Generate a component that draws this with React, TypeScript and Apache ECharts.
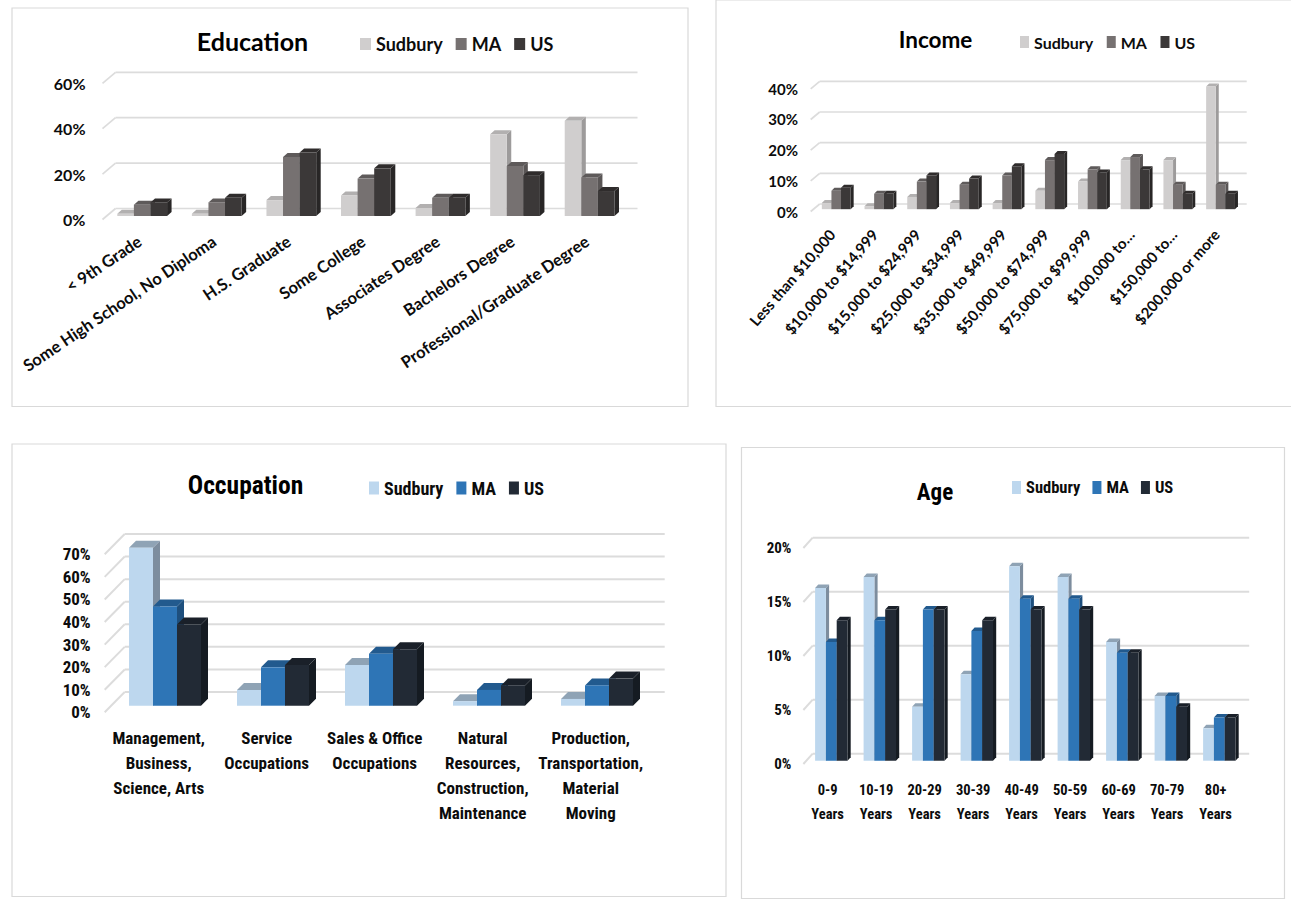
import React, { useEffect, useRef } from "react";
import * as echarts from "echarts";

const seriesNames = ["Sudbury", "MA", "US"];

const eduCategories = ["< 9th Grade", "Some High School, No Diploma", "H.S. Graduate", "Some College", "Associates Degree", "Bachelors Degree", "Professional/Graduate Degree"];
const eduSudbury = [1, 1, 7, 9, 3.5, 36, 42];
const eduMA = [5, 6, 26, 16.5, 8, 22, 17];
const eduUS = [6, 8, 28, 21, 8, 18, 11];

const incCategories = ["Less than $10,000", "$10,000 to $14,999", "$15,000 to $24,999", "$25,000 to $34,999", "$35,000 to $49,999", "$50,000 to $74,999", "$75,000 to $99,999", "$100,000 to…", "$150,000 to…", "$200,000 or more"];
const incSudbury = [2, 1, 4, 2, 2, 6, 9, 16, 16, 40];
const incMA = [6, 5, 9, 8, 11, 16, 13, 17, 8, 8];
const incUS = [7, 5, 11, 10, 14, 18, 12, 13, 5, 5];

const occCategories = ["Management,\nBusiness,\nScience, Arts", "Service\nOccupations", "Sales & Office\nOccupations", "Natural\nResources,\nConstruction,\nMaintenance", "Production,\nTransportation,\nMaterial\nMoving"];
const occSudbury = [70, 7, 18, 2, 3];
const occMA = [44, 17, 23, 7, 9];
const occUS = [36, 18, 25, 9, 12];

const ageCategories = ["0-9\nYears", "10-19\nYears", "20-29\nYears", "30-39\nYears", "40-49\nYears", "50-59\nYears", "60-69\nYears", "70-79\nYears", "80+\nYears"];
const ageSudbury = [16, 17, 5, 8, 18, 17, 11, 6, 3];
const ageMA = [11, 13, 14, 12, 15, 15, 10, 6, 4];
const ageUS = [13, 14, 14, 13, 14, 14, 10, 5, 4];

const eduTicks = [0, 20, 40, 60];
const incTicks = [0, 10, 20, 30, 40];
const occTicks = [0, 10, 20, 30, 40, 50, 60, 70];
const ageTicks = [0, 5, 10, 15, 20];

const GREY = [
  { front: "#d0cece", top: "#b2b0b0", side: "#9d9b9b" },
  { front: "#767171", top: "#5e5a5a", side: "#5a5656" },
  { front: "#3b3838", top: "#2f2c2c", side: "#282626" },
];
const BLUE = [
  { front: "#bdd7ee", top: "#8fa3b5", side: "#7d8d9e" },
  { front: "#2e75b6", top: "#225a8e", side: "#1e4f7d" },
  { front: "#222a35", top: "#1a2029", side: "#151b22" },
];

const WIDE = "Lato";
const NARROW = "'Roboto Condensed',Lato";

const charts = [
  {
    title: "Education", titleX: 252.5, titleY: 28, titleSize: 25, font: WIDE,
    categories: eduCategories, values: [eduSudbury, eduMA, eduUS], ticks: eduTicks, colors: GREY,
    left: 102.5, right: 624.5, top: 83.3, bottom: 219.5,
    wall: [13, 11], shift: [2.4, 3.5], depth: [4.5, 4], barFrac: 0.2225,
    rotate: 34, labelSize: 16.5, labelMargin: 20, yMargin: 17, ySize: 16, gridWidth: 1.7,
    legendX: 360, legendY: 35, legendSize: 18, legendGap: 13, swatch: [11, 12], lineHeight: 18,
  },
  {
    title: "Income", titleX: 935.5, titleY: 28, titleSize: 22.5, font: WIDE,
    categories: incCategories, values: [incSudbury, incMA, incUS], ticks: incTicks, colors: GREY,
    left: 810.7, right: 1237.7, top: 88.8, bottom: 211.5,
    wall: [9, 7.5], shift: [4.2, 2.3], depth: [3, 3], barFrac: 0.225,
    rotate: 49, labelSize: 15, labelMargin: 20, yMargin: 12.7, ySize: 15, gridWidth: 1.7,
    legendX: 1020, legendY: 34, legendSize: 16, legendGap: 13.5, swatch: [9, 12], lineHeight: 18,
  },
  {
    title: "Occupation", titleX: 245.5, titleY: 472, titleSize: 25.5, font: NARROW,
    categories: occCategories, values: [occSudbury, occMA, occUS], ticks: occTicks, colors: BLUE,
    left: 104.7, right: 644.7, top: 554.3, bottom: 712.3,
    wall: [20, 20.3], shift: [6.3, 6.6], depth: [7, 7], barFrac: 0.2222,
    rotate: 0, labelSize: 17, labelMargin: 13, yMargin: 14, ySize: 17, gridWidth: 2,
    legendX: 369, legendY: 479, legendSize: 18, legendGap: 13, swatch: [10, 13], lineHeight: 25,
  },
  {
    title: "Age", titleX: 935, titleY: 481, titleSize: 23, font: NARROW,
    categories: ageCategories, values: [ageSudbury, ageMA, ageUS], ticks: ageTicks, colors: BLUE,
    left: 803.4, right: 1239.9, top: 548, bottom: 764,
    wall: [9.3, 10.3], shift: [3.65, 3.3], depth: [3.2, 3.5], barFrac: 0.2227,
    rotate: 0, labelSize: 14.5, labelMargin: 14, yMargin: 12, ySize: 15, gridWidth: 2,
    legendX: 1012, legendY: 479, legendSize: 16.5, legendGap: 12, swatch: [9, 13], lineHeight: 24,
  },
];

const panels = [
  { x: 12, y: 8, w: 676, h: 398.5 },
  { x: 716, y: 0, w: 580, h: 406.5 },
  { x: 12, y: 444, w: 714, h: 452.5 },
  { x: 741.5, y: 447.5, w: 543, h: 451 },
];

function buildOption() {
  const grid: any[] = [];
  const xAxis: any[] = [];
  const yAxis: any[] = [];
  const title: any[] = [];
  const legend: any[] = [];
  const series: any[] = [];

  charts.forEach((c, i) => {
    grid.push({ left: c.left, top: c.top, width: c.right - c.left, height: c.bottom - c.top, containLabel: false });
    xAxis.push({
      type: "category", gridIndex: i, data: c.categories,
      axisLine: { show: false }, axisTick: { show: false }, splitLine: { show: false },
      axisLabel: {
        interval: 0, rotate: c.rotate, margin: c.labelMargin, color: "#0c0c0c",
        fontFamily: c.font, fontWeight: "bold", fontSize: c.labelSize, lineHeight: c.lineHeight,
        hideOverlap: false,
      },
    });
    const maxTick = c.ticks[c.ticks.length - 1];
    yAxis.push({
      type: "value", gridIndex: i, min: 0, max: maxTick, interval: c.ticks[1],
      axisLine: { show: false }, axisTick: { show: false }, splitLine: { show: false },
      axisLabel: {
        margin: c.yMargin, color: "#0c0c0c", fontFamily: c.font, fontWeight: "bold", fontSize: c.ySize,
        formatter: "{value}%",
      },
    });
    title.push({
      text: c.title, left: c.titleX, top: c.titleY, textAlign: "center", padding: 0,
      textStyle: { fontFamily: c.font, fontWeight: "bold", fontSize: c.titleSize, color: "#000" },
    });
    legend.push({
      left: c.legendX, top: c.legendY, icon: "rect", itemWidth: c.swatch[0], itemHeight: c.swatch[1],
      itemGap: c.legendGap, selectedMode: false, padding: 0,
      textStyle: { fontFamily: c.font, fontWeight: "bold", fontSize: c.legendSize, color: "#0c0c0c" },
      data: seriesNames.map((n, k) => ({ name: n, itemStyle: { color: c.colors[k].front } })),
    });

    series.push({
      type: "custom", xAxisIndex: i, yAxisIndex: i, coordinateSystem: "cartesian2d", silent: true, clip: false,
      data: c.ticks.map((t) => [0, t]),
      encode: { x: 0, y: 1 },
      renderItem: (params: any, api: any) => {
        const y = api.coord([0, api.value(1)])[1];
        const cs = params.coordSys;
        const [dx, dy] = c.wall;
        const style = { stroke: "#dcdcdc", lineWidth: c.gridWidth, fill: "none" };
        return {
          type: "group",
          children: [
            { type: "line", shape: { x1: cs.x, y1: y, x2: cs.x + dx, y2: y - dy }, style },
            { type: "line", shape: { x1: cs.x + dx, y1: y - dy, x2: cs.x + cs.width + dx, y2: y - dy }, style },
          ],
        };
      },
    });

    c.values.forEach((vals, k) => {
      const col = c.colors[k];
      series.push({
        type: "custom", name: seriesNames[k], xAxisIndex: i, yAxisIndex: i, coordinateSystem: "cartesian2d",
        silent: true, clip: false, itemStyle: { color: col.front },
        data: vals.map((v, idx) => [idx, v]),
        encode: { x: 0, y: 1 },
        renderItem: (_p: any, api: any) => {
          const idx = api.value(0);
          const topPt = api.coord([idx, api.value(1)]);
          const basePt = api.coord([idx, 0]);
          const band = api.size([1, 0])[0];
          const w = band * c.barFrac;
          const [sx, sy] = c.shift;
          const [dx, dy] = c.depth;
          const x0 = topPt[0] + sx + (k - 1.5) * w;
          const x1 = x0 + w;
          const yt = topPt[1] - sy;
          const yb = basePt[1] - sy;
          return {
            type: "group",
            children: [
              { type: "polygon", shape: { points: [[x1, yt], [x1 + dx, yt - dy], [x1 + dx, yb - dy], [x1, yb]] }, style: { fill: col.side } },
              { type: "polygon", shape: { points: [[x0, yt], [x0 + dx, yt - dy], [x1 + dx, yt - dy], [x1, yt]] }, style: { fill: col.top } },
              { type: "rect", shape: { x: x0, y: yt, width: w, height: yb - yt }, style: { fill: col.front } },
            ],
          };
        },
      });
    });
  });

  return {
    animation: false,
    backgroundColor: "#ffffff",
    grid, xAxis, yAxis, title, legend, series,
    graphic: panels.map((p) => ({
      type: "rect", silent: true, z: -1,
      shape: { x: p.x, y: p.y, width: p.w, height: p.h },
      style: { fill: "#ffffff", stroke: "#d9d9d9", lineWidth: 1.2 },
    })),
  };
}

export default function App() {
  const ref = useRef<HTMLDivElement>(null);
  useEffect(() => {
    const chart = echarts.init(ref.current!, undefined, { renderer: "svg" });
    chart.setOption(buildOption() as any);
    return () => chart.dispose();
  }, []);
  return <div ref={ref} style={{ position: "fixed", left: 0, top: 0, width: 1291, height: 899 }} />;
}
